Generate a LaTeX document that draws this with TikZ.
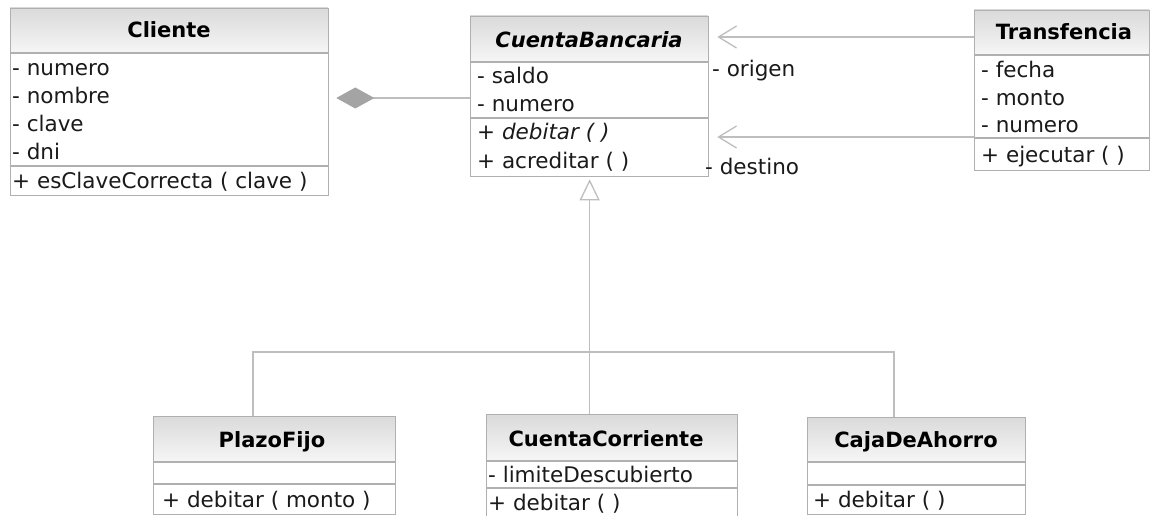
\documentclass[tikz,border=0pt]{standalone}
\usepackage{fontspec}
\setmainfont{DejaVu Sans}
\usetikzlibrary{arrows.meta}
\definecolor{bordercol}{HTML}{B0B0B0}
\definecolor{linecol}{HTML}{BEBEBE}
\definecolor{diamcol}{HTML}{A4A4A4}
\definecolor{hdrtop}{HTML}{DADADA}
\definecolor{hdrbot}{HTML}{F6F6F6}
\definecolor{textcol}{HTML}{1A1A1A}
\tikzset{
  cls/.style={draw=bordercol, line width=1.3pt, anchor=north west, inner sep=0pt},
  sepline/.style={draw=bordercol, line width=1.3pt},
  txt/.style={anchor=base west, inner sep=0pt, text=textcol, font=\fontsize{21.5}{26}\selectfont},
  ttl/.style={anchor=base, inner sep=0pt, text=black, font=\fontsize{21}{26}\selectfont\bfseries},
  conn/.style={draw=linecol, line width=1.3pt},
}
\newcommand{\umlclass}[7]{%
  \shade[top color=hdrtop, bottom color=hdrbot] (#2,#3) rectangle (#4,#6);
  \node[cls, minimum width={(#4-#2)*1pt}, minimum height={(#5-#3)*1pt}] (#1) at (#2,#3) {};
  \draw[sepline] (#2,#6) -- (#4,#6);
  \draw[sepline] (#2,#7) -- (#4,#7);
}
\begin{document}
\begin{tikzpicture}[x=1pt, y=-1pt]
\path[use as bounding box, clip] (0,0) rectangle (1154,516);
\fill[white] (0,0) rectangle (1154,516);

% Cliente
\umlclass{cli}{10}{8}{328}{195}{53}{166}
\node[ttl] (cli-t) at (169,38) {Cliente};
\node[txt] (cli-a1) at (12,76) {- numero};
\node[txt] (cli-a2) at (12,104) {- nombre};
\node[txt] (cli-a3) at (12,132) {- clave};
\node[txt] (cli-a4) at (12,160) {- dni};
\node[txt] (cli-m1) at (12,189) {+ esClaveCorrecta ( clave )};

% CuentaBancaria
\umlclass{cb}{470}{16}{708}{176}{62}{118}
\node[ttl, font=\fontsize{21}{26}\selectfont\bfseries\itshape] (cb-t) at (589,48) {CuentaBancaria};
\node[txt] (cb-a1) at (477,84) {- saldo};
\node[txt] (cb-a2) at (477,112) {- numero};
\node[txt, font=\fontsize{21.5}{26}\selectfont\itshape] (cb-m1) at (477,140) {+ debitar ( )};
\node[txt] (cb-m2) at (477,168) {+ acreditar ( )};

% Transfencia
\umlclass{tr}{974}{10}{1149}{170}{55}{138}
\node[ttl] (tr-t) at (1064,40) {Transfencia};
\node[txt] (tr-a1) at (981,78) {- fecha};
\node[txt] (tr-a2) at (981,106) {- monto};
\node[txt] (tr-a3) at (981,133) {- numero};
\node[txt] (tr-m1) at (981,162) {+ ejecutar ( )};

% PlazoFijo
\umlclass{pf}{153}{416}{395}{514}{462}{484}
\node[ttl] (pf-t) at (272,447) {PlazoFijo};
\node[txt] (pf-m1) at (162,507) {+ debitar ( monto )};

% CuentaCorriente
\umlclass{cc}{486}{414}{737}{524}{461}{488}
\node[ttl] (cc-t) at (606,446) {CuentaCorriente};
\node[txt] (cc-a1) at (488,482) {- limiteDescubierto};
\node[txt] (cc-m1) at (488,510) {+ debitar ( )};

% CajaDeAhorro
\umlclass{ca}{807}{417}{1025}{514}{462}{485}
\node[ttl] (ca-t) at (916,447) {CajaDeAhorro};
\node[txt] (ca-m1) at (813,507) {+ debitar ( )};

% composition Cliente <>-- CuentaBancaria
\draw[conn, -{Diamond[length=38pt, width=21pt, fill=diamcol, color=diamcol]}, shorten >=7pt]
  (cb.west |- 0,98) -- (cli.east |- 0,98);

% navigable associations Transfencia -> CuentaBancaria
\draw[conn, -{Straight Barb[length=18pt, width=22pt, line width=1.3pt]}, shorten >=8pt]
  (tr.west |- 0,37) -- (cb.east |- 0,37);
\draw[conn, -{Straight Barb[length=18pt, width=22pt, line width=1.3pt]}, shorten >=8pt]
  (tr.west |- 0,137) -- (cb.east |- 0,137);
\node[txt] (lbl-or) at (712,77) {- origen};
\node[txt] (lbl-de) at (705,175) {- destino};

% generalization
\coordinate (junc) at (cb.south |- 0,352);
\draw[conn] (pf.north -| 253,0) |- (junc);
\draw[conn] (ca.north -| 894,0) |- (junc);
\draw[conn, -{Triangle[open, length=21pt, width=20pt, fill=white]}, shorten >=2pt]
  (cc.north -| cb.south) -- (cb.south);
\end{tikzpicture}
\end{document}
